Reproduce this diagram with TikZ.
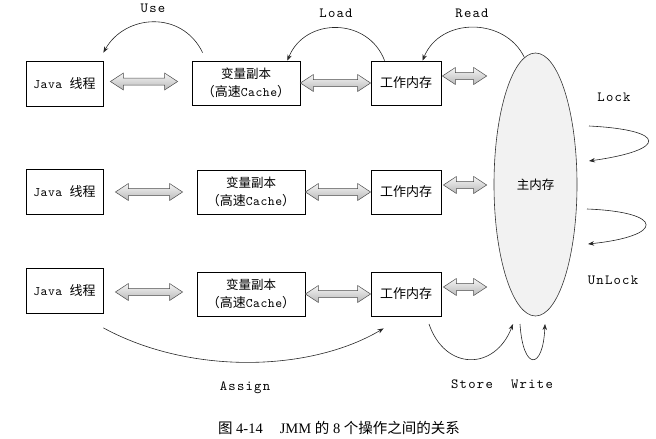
\documentclass[tikz,border=0pt]{standalone}
\usepackage{fontspec}
\setmainfont{Liberation Serif}
\setmonofont{lmmono10-regular.otf}[LetterSpace=4]
\newfontfamily\lbltt{lmmono10-regular.otf}[LetterSpace=9]
\newfontfamily\cjk{Noto Sans CJK SC}
\usetikzlibrary{shapes.geometric,arrows.meta,calc}
\newcommand\zh[1]{{\cjk #1}}
% #1 from node, #2 to node, #3 left gap, #4 right gap, #5 vertical offset (up)
\newcommand\dblar[5]{%
  \shade[dblarrow] let \p1=($(#1.east)+(#3pt,#5pt)$), \p2=($(#2.west)+(-#4pt,0pt)$) in
  (\x1,\y1) -- (\x1+13pt,\y1+8.5pt) -- (\x1+13pt,\y1+3.5pt) -- (\x2-13pt,\y1+3.5pt)
  -- (\x2-13pt,\y1+8.5pt) -- (\x2,\y1) -- (\x2-13pt,\y1-8.5pt) -- (\x2-13pt,\y1-3.5pt)
  -- (\x1+13pt,\y1-3.5pt) -- (\x1+13pt,\y1-8.5pt) -- cycle;}
\tikzset{
  box/.style={draw=black, line width=0.8pt, fill=white, inner sep=0pt,
    font=\fontsize{13}{18}\selectfont\ttfamily, align=center},
  jbox/.style={box, minimum width=77, minimum height=45},
  cbox/.style={box, minimum width=108, minimum height=44},
  wbox/.style={box, minimum width=70, minimum height=44},
  lbl/.style={font=\fontsize{14}{16}\selectfont\lbltt, inner sep=0pt},
  arr/.style={draw=black!85, line width=0.6pt, -{Stealth[length=6pt,width=4.5pt]}},
  dblarrow/.style={draw=black!70, line width=0.5pt, top color=gray!8, bottom color=gray!55},
}
\begin{document}
\begin{tikzpicture}[x=1pt,y=-1pt]
\useasboundingbox (0,0) rectangle (656,439);

% main memory
\node[ellipse, draw=black!80, line width=0.6pt, fill=gray!10, minimum width=83, minimum height=263,
  inner sep=0pt, font=\fontsize{12.5}{15}\selectfont] (m) at (535.5,184.5) {\zh{主内存}};

% row 1
\node[jbox] (j1) at (64.5,83.5) {Java \zh{线程}};
\node[cbox] (c1) at (246,83) {{\fontsize{12.5}{18}\selectfont\zh{变量副本}}\\\zh{（高速}Cache\zh{）}};
\node[wbox] (w1) at (406,83) {\zh{工作内存}};
% row 2
\node[jbox] (j2) at (64.5,192) {Java \zh{线程}};
\node[cbox] (c2) at (251,192) {{\fontsize{12.5}{18}\selectfont\zh{变量副本}}\\\zh{（高速}Cache\zh{）}};
\node[wbox] (w2) at (406,192) {\zh{工作内存}};
% row 3
\node[jbox] (j3) at (64.5,291) {Java \zh{线程}};
\node[cbox] (c3) at (251,294) {{\fontsize{12.5}{18}\selectfont\zh{变量副本}}\\\zh{（高速}Cache\zh{）}};
\node[wbox] (w3) at (406,294) {\zh{工作内存}};

% double arrows
\dblar{j1}{c1}{7}{14}{2}
\dblar{c1}{w1}{0}{0}{0}
\dblar{w1}{m}{1}{7}{7}
\dblar{j2}{c2}{12}{14}{0}
\dblar{c2}{w2}{0}{0}{0}
\dblar{w2}{m}{2}{7}{7}
\dblar{j3}{c3}{12}{14}{-1}
\dblar{c3}{w3}{0}{0}{0}
\dblar{w3}{m}{2}{7}{7}

% labels
\node[lbl] (use) at (153,8) {Use};
\node[lbl] (load) at (336,13) {Load};
\node[lbl] (read) at (472,13) {Read};
\node[lbl] (lock) at (614,97) {Lock};
\node[lbl] (unlock) at (613,280) {UnLock};
\node[lbl] (assign) at (245,388) {Assign};
\node[lbl] (store) at (472,384) {Store};
\node[lbl] (write) at (532,384) {Write};

% free-end coordinates
\coordinate (lk1) at (589,126);
\coordinate (lk2) at (589,161);
\coordinate (ul1) at (587,209);
\coordinate (ul2) at (588,244);
\coordinate (st1) at (429,324);
\coordinate (st2) at (513,324);
\coordinate (wr1) at (520,324);
\coordinate (wr2) at (545,324);

% curved operations
\draw[arr] ($(c1.north west)+(11,-8)$) .. controls (182,10) and (125,14) .. ($(j1.north east)+(0,-8)$);
\draw[arr] ($(w1.north west)+(14,0)$) .. controls (368,17) and (305,17) .. ($(c1.north east)+(-13,0)$);
\draw[arr] (m.95.7) .. controls (505,17) and (440,17) .. ($(w1.north west)+(52,0)$);
\draw[arr] (lk1) .. controls (668,130) and (668,150) .. (lk2);
\draw[arr] (ul1) .. controls (665,212) and (665,236) .. (ul2);
\draw[arr] ($(j3.south east)+(0,14)$) .. controls (190,375) and (310,372) .. ($(w3.south west)+(13,12)$);
\draw[arr] (st1) .. controls (445,371) and (495,371) .. (st2);
\draw[arr] (wr1) .. controls (523,371) and (543,371) .. (wr2);

% caption
\node[font=\fontsize{14.5}{16}\selectfont, inner sep=0pt] (cap) at (339,428)
  {\zh{图} 4-14\hspace{17pt}JMM \zh{的} 8 \zh{个操作之间的关系}};
\end{tikzpicture}
\end{document}
